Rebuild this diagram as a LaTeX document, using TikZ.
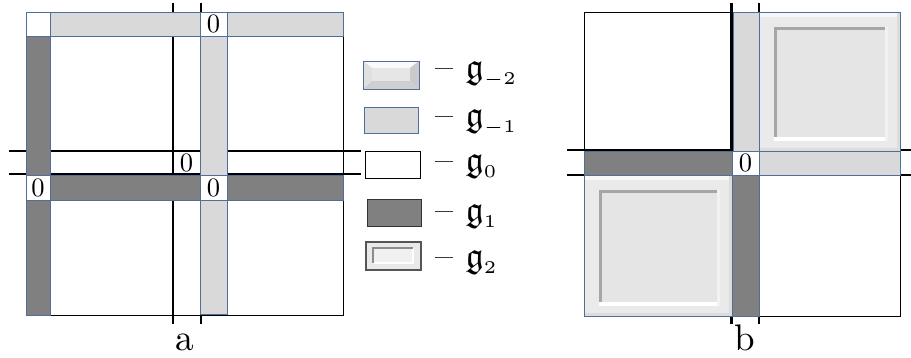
\documentclass[tikz,border=0pt]{standalone}
\usepackage{amssymb}
\definecolor{lg}{HTML}{D9D9D9}
\definecolor{dg}{HTML}{808080}
\definecolor{sb}{HTML}{4F6E9A}
\definecolor{bvfr}{HTML}{EAEAEA}
\definecolor{bvtop}{HTML}{F7F7F7}
\definecolor{bvbot}{HTML}{DCDCDC}
\definecolor{bvgroove}{HTML}{A6A6A6}
\definecolor{bvin}{HTML}{E5E5E5}
\definecolor{bvlite}{HTML}{F2F2F2}
\definecolor{icTop}{HTML}{FAFAFA}
\definecolor{icLeft}{HTML}{E0E0E0}
\definecolor{icRight}{HTML}{CACACA}
\definecolor{icBot}{HTML}{CFCFCF}
\definecolor{icIn}{HTML}{E6E6E6}
\definecolor{gOneBorder}{HTML}{333333}
\definecolor{gTwoFill}{HTML}{E9E9E9}
\definecolor{gTwoBorder}{HTML}{555555}
\definecolor{gTwoIn}{HTML}{F0F0F0}
\definecolor{gTwoLine}{HTML}{8C8C8C}
\tikzset{
  stripe/.style={draw=sb, line width=0.8pt},
  lightstrip/.style={stripe, fill=lg},
  darkstrip/.style={stripe, fill=dg},
  zerocell/.style={stripe, fill=white},
  axisline/.style={line width=2.8pt, black},
  whitebox/.style={draw=black, line width=0.9pt, fill=white},
  zero/.style={inner sep=0pt, scale=2.65},
  lab/.style={inner sep=0pt, anchor=base, scale=3.7},
  leg/.style={inner sep=0pt, anchor=base west, scale=3.6},
}
\newcommand\bevelpanel[4]{%
  \fill[bvfr] (#1,#2) rectangle (#3,#4);
  \fill[bvtop] (#1,#2) rectangle (#3,{#2+5});
  \fill[bvbot] (#1,{#4-3}) rectangle (#3,#4);
  \fill[bvbot] ({#3-3},#2) rectangle (#3,#4);
  \fill[bvgroove] ({#1+15},{#2+15}) rectangle ({#3-15},{#4-14});
  \fill[bvin] ({#1+18},{#2+18}) rectangle ({#3-15},{#4-14});
  \fill[white] ({#1+15},{#4-14}) rectangle ({#3-12},{#4-10});
  \fill[bvlite] ({#3-15},{#2+15}) rectangle ({#3-12},{#4-10});
  \draw[sb, line width=0.8pt] (#1,#2) rectangle (#3,#4);
}
\newcommand\gsub[1]{$\mathfrak{g}_{\scriptscriptstyle #1}$}
\begin{document}
\begin{tikzpicture}[x=1pt,y=-1pt]
\useasboundingbox (0,0) rectangle (911,358);

% ---------- panel a ----------
\path[whitebox] (26,12) rectangle (343,315);
\draw[axisline] (9,151) -- (361,151);
\draw[axisline] (9,174) -- (361,174);
\draw[axisline] (173,3) -- (173,324);
\draw[axisline] (201,3) -- (201,324);

\path[zerocell] (26,12) rectangle (50,36);
\path[lightstrip] (50,12) rectangle (200,36);
\path[lightstrip] (227,12) rectangle (343,36);
\path[darkstrip] (26,36) rectangle (50,175);
\path[darkstrip] (26,200) rectangle (50,315);
\path[lightstrip] (200,36) rectangle (227,175);
\path[lightstrip] (200,200) rectangle (227,314);
\path[darkstrip] (50,175) rectangle (200,200);
\path[darkstrip] (227,175) rectangle (343,200);
\path[zerocell] (200,12) rectangle (227,36);
\path[zerocell] (26,175) rectangle (50,200);
\path[zerocell] (200,175) rectangle (227,200);
\node[zero] (za1) at (213.5,24) {0};
\node[zero] (za2) at (38,187.5) {0};
\node[zero] (za3) at (213.5,187.5) {0};
\node[zero] (za4) at (186.5,162.5) {0};
\node[lab] (la) at (185,350) {a};

% ---------- legend ----------
% g_{-2}
\fill[bvfr] (363,61) rectangle (419,89);
\fill[icTop] (363,61) -- (419,61) -- (410,68) -- (372,68) -- cycle;
\fill[icLeft] (363,61) -- (372,68) -- (372,81) -- (363,89) -- cycle;
\fill[icRight] (419,61) -- (419,89) -- (410,81) -- (410,68) -- cycle;
\fill[icBot] (363,89) -- (419,89) -- (410,81) -- (372,81) -- cycle;
\fill[icIn] (372,68) rectangle (410,81);
\draw[sb, line width=0.8pt] (363,61) rectangle (419,89);
% g_{-1}
\path[lightstrip] (364,107) rectangle (418,133);
% g_0
\path[whitebox] (365,151) rectangle (420,178);
% g_1
\path[fill=dg, draw=gOneBorder, line width=0.8pt] (367,199) rectangle (421,226);
% g_2
\path[fill=gTwoFill, draw=gTwoBorder, line width=1.2pt] (366,242) rectangle (421,270);
\fill[gTwoIn] (373,248) rectangle (413,263);
\draw[white, line width=1.2pt] (373,263) -- (413,263) -- (413,248);
\draw[gTwoLine, line width=1.5pt] (373,263) -- (373,248) -- (413,248);

\node[leg] (lm2) at (435,79) {-- \gsub{-2}};
\node[leg] (lm1) at (435,127) {-- \gsub{-1}};
\node[leg] (l0) at (435,172) {-- \gsub{0}};
\node[leg] (l1) at (435,222) {-- \gsub{1}};
\node[leg] (l2) at (435,268) {-- \gsub{2}};

% ---------- panel b ----------
\path[whitebox] (584,12) rectangle (732,151);
\path[whitebox] (759,175) rectangle (900,316);
\draw[axisline] (567,150) -- (911,150);
\draw[axisline] (567,175) -- (911,175);
\draw[axisline] (731.5,3) -- (731.5,324);
\draw[axisline] (759,3) -- (759,324);

\path[lightstrip] (733,12) rectangle (759,151);
\bevelpanel{759}{12}{900}{151}
\path[darkstrip] (584,151) rectangle (732,175);
\path[zerocell] (732,151) rectangle (759,175);
\path[lightstrip] (759,151) rectangle (900,175);
\bevelpanel{584}{175}{732}{316}
\path[darkstrip] (732,175) rectangle (759,316);
\node[zero] (zb) at (745.5,163) {0};
\node[lab] (lb) at (745,350) {b};
\end{tikzpicture}
\end{document}
